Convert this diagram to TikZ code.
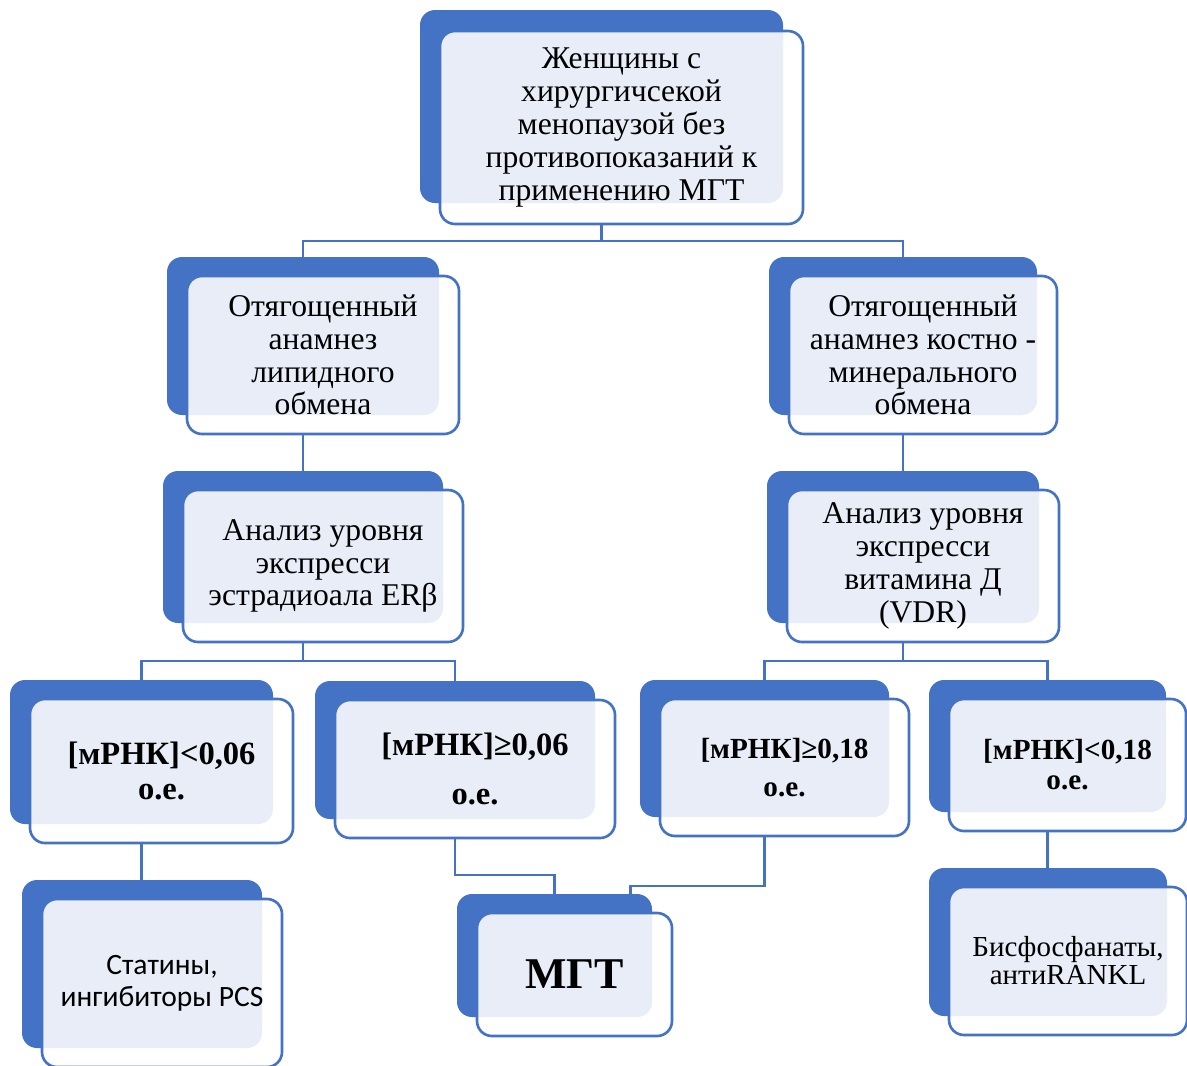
\documentclass[tikz,border=0pt]{standalone}
\usepackage{fontspec}
\setmainfont{Liberation Serif}
\newfontfamily\calibfont{Carlito}
\usepackage{xcolor}
\usetikzlibrary{positioning,calc}
\definecolor{SAblue}{HTML}{4472C4}

\tikzset{
  backbox/.style={fill=SAblue,rounded corners=3mm,inner sep=0pt},
  frontbox/.style={draw=SAblue,line width=1.5pt,fill=white,fill opacity=0.88,text opacity=1,
    rounded corners=3mm,align=center,inner sep=0pt},
  sz/.style 2 args={minimum width=#1*0.2mm,minimum height=#2*0.2mm},
  link/.style={draw=SAblue,line width=1.3pt},
  txt/.style={font=\fontsize{18}{18.7}\selectfont},
  boldtxt/.style={font=\fontsize{18.5}{20}\selectfont\bfseries},
  smalltxt/.style={font=\fontsize{16.6}{19}\selectfont\bfseries},
}

\begin{document}
\begin{tikzpicture}[x=0.2mm,y=-0.2mm]
  \clip (0,0) rectangle (1187,1065);

  % back plates
  \node[backbox,sz={363}{193}] (top-b) at (601.5,106.5) {};
  \node[backbox,sz={272}{158}] (l2l-b) at (303,336) {};
  \node[backbox,sz={268}{158}] (l2r-b) at (903,336) {};
  \node[backbox,sz={280}{152}] (l3l-b) at (303,547) {};
  \node[backbox,sz={272}{152}] (l3r-b) at (903,547) {};
  \node[backbox,sz={263}{144}] (a-b) at (141.5,752) {};
  \node[backbox,sz={280}{138}] (b-b) at (455,750) {};
  \node[backbox,sz={249}{137}] (c-b) at (764.5,748.5) {};
  \node[backbox,sz={237}{132}] (d-b) at (1047.5,746) {};
  \node[backbox,sz={240}{168}] (st-b) at (142,964) {};
  \node[backbox,sz={195}{123}] (mgt-b) at (554.5,955.5) {};
  \node[backbox,sz={238}{148}] (bis-b) at (1048,942) {};

  % front cards with text
  \node[frontbox,txt,sz={363}{193}] (top) at ([shift={(20,21)}]top-b.center)
    {Женщины с\\хирургичсекой\\менопаузой без\\противопоказаний к\\применению МГТ};
  \node[frontbox,txt,sz={272}{158}] (l2l) at ([shift={(20,19)}]l2l-b.center)
    {Отягощенный\\анамнез\\липидного\\обмена};
  \node[frontbox,txt,sz={268}{158}] (l2r) at ([shift={(20,19)}]l2r-b.center)
    {Отягощенный\\анамнез костно -\\минерального\\обмена};
  \node[frontbox,txt,sz={280}{152}] (l3l) at ([shift={(20,19)}]l3l-b.center)
    {Анализ уровня\\экспресси\\эстрадиоала ERβ};
  \node[frontbox,txt,sz={272}{152}] (l3r) at ([shift={(20,19)}]l3r-b.center)
    {Анализ уровня\\экспресси\\витамина Д\\(VDR)};
  \node[frontbox,boldtxt,sz={263}{144}] (a) at ([shift={(20,19)}]a-b.center)
    {[мРНК]<0,06\\о.е.};
  \node[frontbox,boldtxt,sz={280}{138}] (b) at ([shift={(20,19)}]b-b.center)
    {[мРНК]≥0,06\\[8pt]о.е.};
  \node[frontbox,smalltxt,sz={249}{137}] (c) at ([shift={(20,19)}]c-b.center)
    {[мРНК]≥0,18\\[3pt]о.е.};
  \node[frontbox,smalltxt,sz={237}{132}] (d) at ([shift={(20,19)}]d-b.center)
    {[мРНК]<0,18\\[-2pt]о.е.};
  \node[frontbox,font=\calibfont\fontsize{16.8}{18}\selectfont,sz={240}{168}] (st) at ([shift={(20,19)}]st-b.center)
    {Статины,\\ингибиторы PCS};
  \node[frontbox,font=\fontsize{25}{25}\selectfont\bfseries,sz={195}{123}] (mgt) at ([shift={(20,19)}]mgt-b.center)
    {МГТ};
  \node[frontbox,font=\fontsize{16.5}{15.9}\selectfont,sz={238}{148}] (bis) at ([shift={(20,19)}]bis-b.center)
    {Бисфосфанаты,\\антиRANKL};

  % connectors
  \draw[link] (top-b |- top.south) -- ++(0,16) coordinate (j1);
  \draw[link] (j1) -| (l2l-b.north);
  \draw[link] (j1) -| (l2r-b.north);
  \draw[link] (l2l-b |- l2l.south) -- (l2l-b |- l3l-b.north);
  \draw[link] (l2r-b |- l2r.south) -- (l2r-b |- l3r-b.north);
  \draw[link] (l3l-b |- l3l.south) -- ++(0,18) coordinate (j2);
  \draw[link] (j2) -| (a-b.north);
  \draw[link] (j2) -| (b-b.north);
  \draw[link] (l3r-b |- l3r.south) -- ++(0,18) coordinate (j3);
  \draw[link] (j3) -| (c-b.north);
  \draw[link] (j3) -| (d-b.north);
  \draw[link] (a-b |- a.south) -- (a-b |- st-b.north);
  \draw[link] (b-b |- b.south) -- ++(0,36) -| (mgt-b.north);
  \draw[link] (c-b |- c.south) -- ++(0,49) -| ($(mgt-b.north east)+(-22,0)$);
  \draw[link] (d-b |- d.south) -- (d-b |- bis-b.north);
\end{tikzpicture}
\end{document}
